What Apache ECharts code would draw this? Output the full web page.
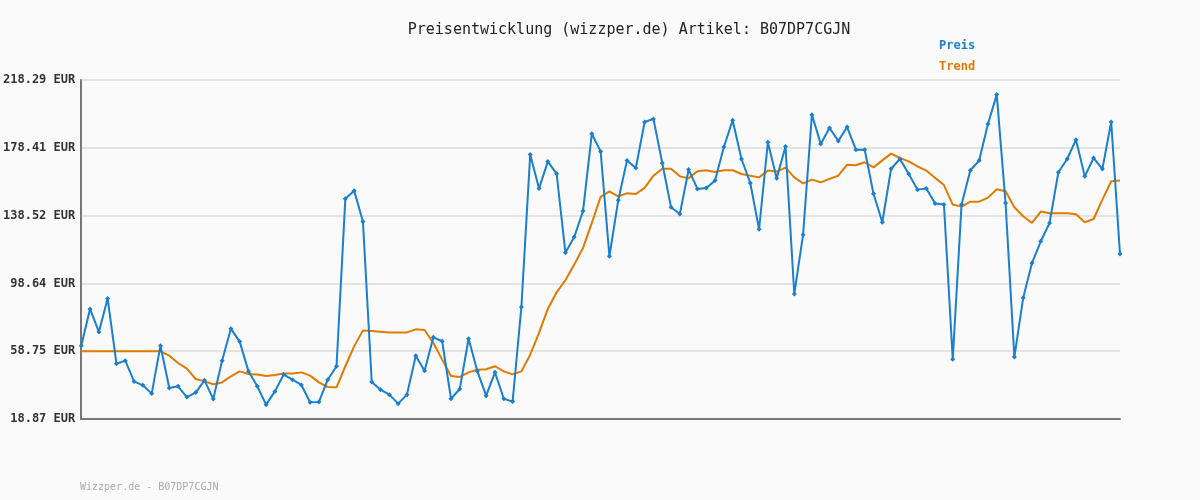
<!DOCTYPE html>
<html><head><meta charset="utf-8">
<script src="https://cdn.jsdelivr.net/npm/echarts@6/dist/echarts.min.js"></script>
<style>html,body{margin:0;background:#fafafa}#c{width:1200px;height:500px}</style>
</head><body><div id="c"></div>
<script>
const yTicks = [18.87, 58.75, 98.64, 138.52, 178.41, 218.29];
const preis = [62.0,83.6,70.1,89.7,51.4,53.2,41.0,38.7,33.8,62.0,37.1,38.1,31.8,34.4,41.6,30.6,53.2,72.0,64.4,46.9,38.1,27.3,35.1,45.0,42.0,38.9,28.7,28.9,42.0,49.9,148.5,153.2,135.0,40.6,36.1,33.2,27.9,33.2,56.1,47.3,66.9,64.6,30.8,36.5,66.1,46.9,32.6,46.3,30.8,29.1,84.8,174.4,154.4,170.3,163.2,116.7,125.9,141.2,186.7,176.3,114.6,147.5,171.0,166.5,193.6,195.4,169.5,143.4,139.5,165.6,154.2,154.8,159.1,178.9,194.6,171.8,157.7,130.5,181.6,160.5,179.1,92.4,127.3,197.9,180.7,190.1,182.4,190.6,177.3,177.3,151.4,134.6,166.1,171.8,163.0,153.8,154.4,145.6,145.0,54.0,145.0,165.2,170.9,192.4,209.7,145.9,55.3,90.1,110.6,123.4,134.2,164.0,171.8,183.2,161.6,172.4,166.0,193.6,115.9];
const trend = [58.7,58.7,58.7,58.7,58.7,58.7,58.7,58.7,58.7,58.7,56.1,51.8,48.5,42.4,41.0,39.3,40.4,44.0,46.9,45.3,45.1,44.2,44.8,45.7,45.7,46.3,44.4,40.4,37.7,37.5,49.9,61.6,71.0,70.6,70.2,69.8,69.8,69.8,71.6,71.2,63.6,53.8,44.2,43.6,46.3,47.9,48.1,49.9,46.9,45.1,46.9,56.7,69.5,83.6,93.4,100.5,109.7,119.5,134.2,149.5,152.8,149.9,151.6,151.2,154.8,162.0,166.1,166.1,161.6,160.5,164.6,165.2,164.2,165.2,165.2,163.0,162.0,161.0,165.0,164.4,166.7,161.0,157.5,159.7,158.1,160.1,162.0,168.5,168.1,169.9,166.9,171.0,175.0,172.4,170.4,167.5,165.0,160.7,156.5,145.0,143.8,146.7,146.7,149.1,154.0,152.8,143.4,138.1,134.2,140.9,139.9,139.9,139.9,139.3,134.6,136.5,147.9,158.7,159.1];
const cats = preis.map((_, i) => i + 1);
const mono = 'DejaVu Sans Mono';
const chart = echarts.init(document.getElementById('c'));
chart.setOption({
  backgroundColor: '#fafafa',
  animation: false,
  title: { text: 'Preisentwicklung (wizzper.de) Artikel: B07DP7CGJN', left: 624, top: 18, textAlign: 'center',
    textStyle: { fontFamily: mono, fontSize: 15, fontWeight: 'normal', color: '#222' } },
  graphic: [
    { type: 'text', left: 939, top: 40, style: { text: 'Preis', fill: '#1a7fcf', font: 'bold 12px "DejaVu Sans Mono"' } },
    { type: 'text', left: 939, top: 61, style: { text: 'Trend', fill: '#e07b00', font: 'bold 12px "DejaVu Sans Mono"' } },
    { type: 'text', left: 80, top: 482, style: { text: 'Wizzper.de - B07DP7CGJN', fill: '#aaa', font: '10px "DejaVu Sans Mono"' } }
  ],
  grid: { left: 80, right: 80, top: 80, bottom: 81 },
  xAxis: { type: 'category', data: cats, boundaryGap: false,
    axisLine: { lineStyle: { color: '#777', width: 2 } }, axisTick: { show: false }, axisLabel: { show: false }, splitLine: { show: false } },
  yAxis: { type: 'value', min: yTicks[0], max: yTicks[5], interval: (yTicks[5] - yTicks[0]) / 5,
    axisLine: { show: true, lineStyle: { color: '#777', width: 2 } }, axisTick: { show: false },
    axisLabel: { margin: 6, fontFamily: mono, fontSize: 12, fontWeight: 'bold', color: '#333',
      formatter: v => v.toFixed(2) + ' EUR' },
    splitLine: { lineStyle: { color: '#e4e4e4', width: 2 } } },
  series: [
    { name: 'Trend', type: 'line', data: trend, symbol: 'none', lineStyle: { color: '#e07b00', width: 2 }, z: 2 },
    { name: 'Preis', type: 'line', data: preis, symbol: 'diamond', symbolSize: 5, itemStyle: { color: '#1a7fcf' },
      lineStyle: { color: '#1a7fcf', width: 2 }, z: 3 }
  ]
});
</script></body></html>
